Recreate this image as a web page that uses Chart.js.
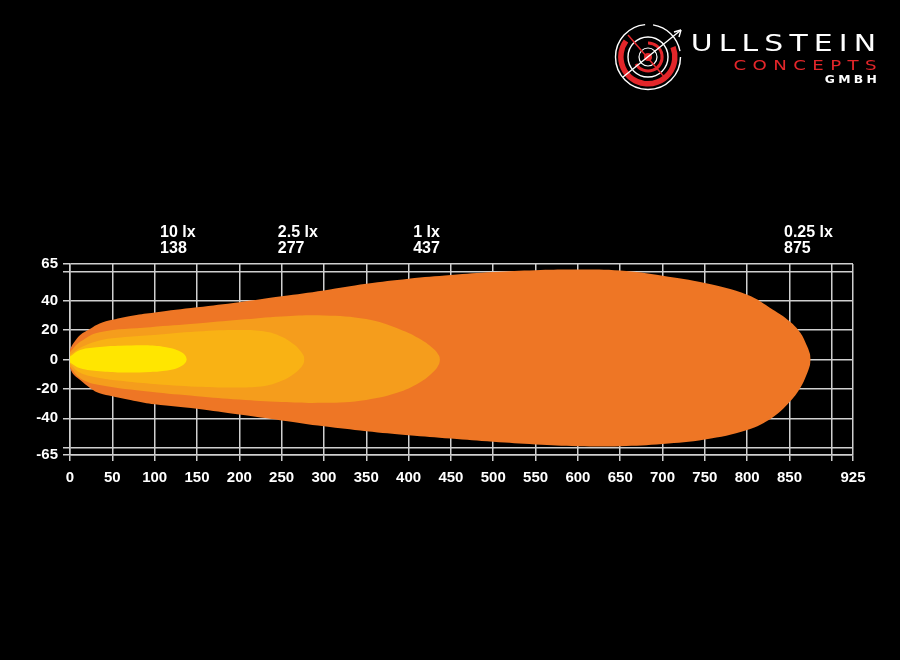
<!DOCTYPE html>
<html>
<head>
<meta charset="utf-8">
<script src="https://cdn.jsdelivr.net/npm/chart.js@4.4.1/dist/chart.umd.min.js"></script>
<style>
  html,body{margin:0;padding:0;background:#000;}
  #wrap{position:relative;width:900px;height:660px;overflow:hidden;}
  #c{position:absolute;left:0;top:0;}
  .logo{position:absolute;left:0;top:0;width:900px;height:110px;}
  .lt{position:absolute;white-space:nowrap;line-height:1;font-family:"DejaVu Sans",sans-serif;text-align:right;transform-origin:100% 50%;}
  #l1{top:32px;right:17.5px;font-size:23px;color:#fff;letter-spacing:4.7px;transform:scaleX(1.3);}
  #l2{top:58px;right:17.5px;font-size:14px;color:#e3262a;letter-spacing:4.9px;transform:scaleX(1.3);}
  #l3{top:74px;right:20.3px;font-size:10.3px;font-weight:bold;color:#fff;letter-spacing:2.7px;transform:scaleX(1.2);}
</style>
</head>
<body>
<div id="wrap">
  <canvas id="c" width="900" height="660"></canvas>
  <div class="logo">
    <svg width="900" height="110" style="position:absolute;left:0;top:0">
      <g transform="translate(648,57)" fill="none">
        <circle r="32.5" stroke="#fff" stroke-width="1.4" stroke-dasharray="150 8 40 6"/>
        <path d="M -22 -16 A 27 27 0 1 0 25 -10" stroke="#e3262a" stroke-width="5.5"/>
        <circle r="20" stroke="#fff" stroke-width="1.4"/>
        <path d="M 0 -14 A 14 14 0 1 1 -12 7" stroke="#e3262a" stroke-width="3"/>
        <circle r="9" stroke="#fff" stroke-width="1.2"/>
        <circle r="4" fill="#e3262a"/>
        <line x1="-20" y1="-22" x2="18" y2="22" stroke="#e3262a" stroke-width="1.5"/>
        <line x1="-25" y1="20" x2="33" y2="-27" stroke="#fff" stroke-width="1.4"/>
        <path d="M 33 -27 L 26 -25 M 33 -27 L 31 -20" stroke="#fff" stroke-width="1.4"/>
      </g>
    </svg>
    <div class="lt" id="l1">ULLSTEIN</div>
    <div class="lt" id="l2">CONCEPTS</div>
    <div class="lt" id="l3">GMBH</div>
  </div>
</div>
<script>
// axis ticks
const xTicks = [0,50,100,150,200,250,300,350,400,450,500,550,600,650,700,750,800,850,900,925];
const xHidden = [900];
const yTicks = [-65,-60,-40,-20,0,20,40,60,65];
const yHidden = [-60,60];

// isolux labels above the chart
const luxLabels = ['10 lx','2.5 lx','1 lx','0.25 lx'];
const luxDist = [138,277,437,875];

// 0.25 lx contour
const outerX  = [0,4,12,24,35,50,75,100,150,200,250,300,350,400,450,500,550,600,650,700,750,800,830,850,863,870,874,875];
const outerUp = [7,11,16.7,21,24.5,27,30,32,35.5,39,43,47,51.5,55,57.5,59.5,60.8,61.2,60.5,57,52,44,34,26,18,10,4,0];
const outerLo = [-6,-10,-14,-19.5,-23,-25,-28,-30.5,-33.5,-37.5,-41.5,-45.5,-48.8,-51.5,-53.8,-56,-57.8,-59,-59,-57.5,-54.5,-48,-39.5,-29,-19,-10.5,-4,0];

// 1 lx contour
const lx1X  = [0,12,35,95,150,200,250,300,350,390,415,430,436,437];
const lx1Up = [5,12,18.6,22,24.5,27,29.3,30,27.5,20.5,13.5,7,2.5,0];
const lx1Lo = [-5,-12.7,-17.4,-22,-25,-27.3,-29,-29.5,-27.5,-22,-15,-8,-3,0];

// 2.5 lx contour
const lx25X  = [0,12,35,60,95,150,200,230,250,264,272,276,277];
const lx25Up = [3,8,13,15,16.5,19,20,19,15.5,10.5,6,2.5,0];
const lx25Lo = [-3,-9,-12.6,-14.5,-16.5,-18.5,-19,-18,-14.5,-10,-6,-2.5,0];

// 10 lx contour
const lx10X  = [0,12,35,60,95,115,127,134,137,138];
const lx10Up = [2,6.5,8.5,9.3,9.5,8.2,6.3,4,1.8,0];
const lx10Lo = [-2,-6,-8,-8.8,-8.5,-7.5,-5.8,-3.6,-1.6,0];

const contours = [
  {x:lx10X, up:lx10Up, lo:lx10Lo, color:'#ffe600'},
  {x:lx25X, up:lx25Up, lo:lx25Lo, color:'#f9b214'},
  {x:lx1X,  up:lx1Up,  lo:lx1Lo,  color:'#f59d1c'},
  {x:outerX,up:outerUp,lo:outerLo,color:'#ee7625'}
];

const pts = (xs,ys)=>xs.map((x,i)=>({x, y:ys[i]}));
const datasets = [];
for(const c of contours){
  const base = {pointRadius:0, borderWidth:0, tension:0.4, backgroundColor:c.color, borderColor:c.color};
  datasets.push({...base, data:pts(c.x,c.up), fill:'+1'});
  datasets.push({...base, data:pts(c.x,c.lo), fill:false});
}

const GRID = '#cfcfcf';
const FONT = '"Liberation Sans", Arial, sans-serif';
const tickFont = {family:FONT, size:15, weight:'bold'};

const luxPlugin = {
  id:'luxLabels',
  afterDraw(chart){
    const ctx = chart.ctx, xs = chart.scales.x;
    ctx.save();
    ctx.fillStyle = '#fff';
    ctx.font = 'bold 16px ' + FONT;
    ctx.textBaseline = 'alphabetic';
    ctx.textAlign = 'left';
    luxDist.forEach((d,i)=>{
      const px = xs.getPixelForValue(d);
      const num = String(d);
      const w = ctx.measureText(num).width;
      ctx.fillText(num, px - w, 253);
      ctx.fillText(luxLabels[i], px - w, 237);
    });
    ctx.restore();
  }
};

new Chart(document.getElementById('c'), {
  type:'line',
  data:{datasets},
  plugins:[luxPlugin],
  options:{
    responsive:false,
    animation:false,
    events:[],
    layout:{padding:{top:264, right:47, bottom:175, left:0}},
    plugins:{legend:{display:false}, tooltip:{enabled:false}},
    scales:{
      x:{
        type:'linear', min:0, max:925, z:1,
        afterBuildTicks: s=>{ s.ticks = xTicks.map(v=>({value:v})); },
        afterFit: s=>{ s.height = 30; },
        ticks:{color:'#fff', font:tickFont, padding:8, autoSkip:false, maxRotation:0,
          callback: v=> xHidden.includes(v) ? '' : String(v)},
        grid:{color:GRID, lineWidth:1.5, tickLength:6, tickColor:GRID},
        border:{color:GRID, width:1.5}
      },
      y:{
        type:'linear', min:-65, max:65, z:1,
        afterBuildTicks: s=>{ s.ticks = yTicks.map(v=>({value:v})); },
        afterFit: s=>{ s.width = 70; },
        ticks:{color:'#fff', font:tickFont, padding:5, autoSkip:false,
          callback: v=> yHidden.includes(v) ? '' : String(v)},
        grid:{color:GRID, lineWidth:1.5, tickLength:7, tickColor:GRID},
        border:{color:GRID, width:1.5}
      }
    }
  }
});
</script>
</body>
</html>
